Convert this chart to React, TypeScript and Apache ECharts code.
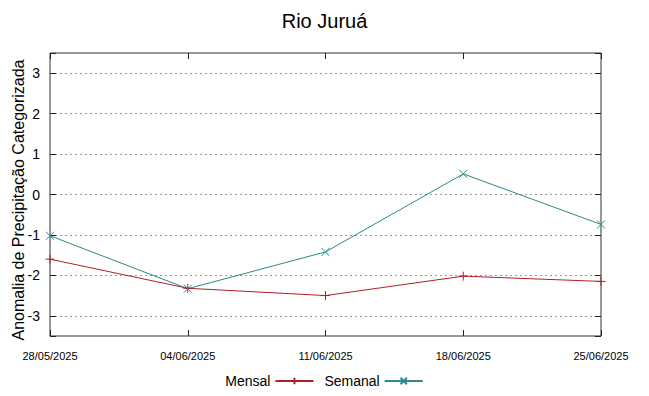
import React, { useEffect, useRef } from "react";
import * as echarts from "echarts";

const categories = ["28/05/2025", "04/06/2025", "11/06/2025", "18/06/2025", "25/06/2025"];
const mensal = [-1.6, -2.32, -2.5, -2.02, -2.15];
const semanal = [-1.02, -2.33, -1.42, 0.51, -0.74];
const yTicks = [-3, -2, -1, 0, 1, 2, 3];
const yTitle = "Anomalia de Precipitação Categorizada";

const RED = "#b0202a";
const TEAL = "#2b8a8a";
const PLUS = "path://M0,5L10,5M5,0L5,10";
const CROSS = "path://M0,0L10,10M0,10L10,0";

export default function App() {
  const ref = useRef<HTMLDivElement>(null);
  useEffect(() => {
    if (!ref.current) return;
    const chart = echarts.init(ref.current, null, { renderer: "svg" });
    const font = "Liberation Sans, Arial, sans-serif";
    const yBase = {
      type: "value" as const,
      min: -3.5,
      max: 3.5,
      splitNumber: 7,
      axisLine: { show: false, onZero: false },
      axisTick: { show: true, inside: true, length: 6, lineStyle: { color: "#222" } },
    };
    chart.setOption({
      animation: false,
      backgroundColor: "#fff",
      textStyle: { fontFamily: font },
      title: {
        text: "Rio Juruá",
        left: "center",
        top: 6,
        textStyle: { fontFamily: font, fontSize: 20, fontWeight: "normal", color: "#000" },
      },
      graphic: [
        {
          type: "text",
          x: 18,
          y: 200,
          rotation: Math.PI / 2,
          style: {
            text: yTitle,
            fontFamily: font,
            fontSize: 16,
            fill: "#000",
            align: "center",
            verticalAlign: "middle",
          },
        },
      ],
      grid: {
        left: 50,
        right: 48,
        top: 53,
        bottom: 60,
        outerBoundsMode: "none",
        containLabel: false,
        show: true,
        borderColor: "#333",
        borderWidth: 1,
        backgroundColor: "transparent",
      },
      legend: {
        bottom: 3,
        left: "center",
        align: "right",
        itemWidth: 38,
        itemHeight: 8,
        itemGap: 10,
        textStyle: { fontFamily: font, fontSize: 14, color: "#000" },
        data: ["Mensal", "Semanal"],
      },
      xAxis: [
        {
          type: "category",
          data: categories,
          boundaryGap: false,
          axisLine: { show: false, onZero: false },
          axisTick: { show: true, inside: true, length: 6, lineStyle: { color: "#222" } },
          axisLabel: { fontSize: 11, color: "#000", margin: 14, fontFamily: font, interval: 0 },
          splitLine: { show: false },
        },
        {
          type: "category",
          data: categories,
          boundaryGap: false,
          position: "top",
          axisLine: { show: false, onZero: false },
          axisTick: { show: true, inside: true, length: 6, lineStyle: { color: "#222" } },
          axisLabel: { show: false },
          splitLine: { show: false },
        },
      ],
      yAxis: [
        {
          ...yBase,
          axisLabel: {
            fontSize: 14,
            color: "#000",
            margin: 10,
            fontFamily: font,
            formatter: (v: number) => (yTicks.includes(v) ? String(v) : ""),
          },
          splitLine: { show: true, lineStyle: { type: [2, 3], color: "#999", width: 1 } },
        },
        {
          ...yBase,
          position: "right",
          axisLabel: { show: false },
          splitLine: { show: false },
        },
      ],
      series: [
        {
          name: "Mensal",
          type: "line",
          data: mensal,
          symbol: PLUS,
          symbolSize: 9,
          lineStyle: { color: RED, width: 1 },
          itemStyle: { color: RED, borderColor: RED, borderWidth: 1 },
        },
        {
          name: "Semanal",
          type: "line",
          data: semanal,
          symbol: CROSS,
          symbolSize: 8,
          lineStyle: { color: TEAL, width: 1 },
          itemStyle: { color: TEAL, borderColor: TEAL, borderWidth: 1 },
        },
      ],
    });
    return () => chart.dispose();
  }, []);
  return <div ref={ref} style={{ width: 649, height: 396, position: "absolute", left: 0, top: 0 }} />;
}
